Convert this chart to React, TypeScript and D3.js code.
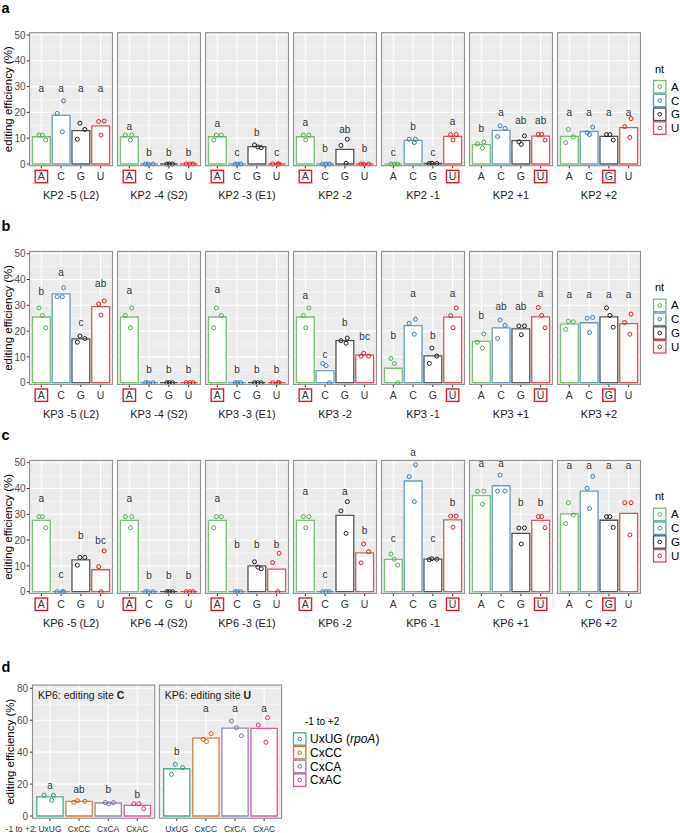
import React from "react";
import * as d3 from "d3";

const NT = ["A", "C", "G", "U"];
const NT_COLORS = ["#4daf4a", "#377eb8", "#1f1f1f", "#e41a1c"];
const POSITIONS = ["-5 (L2)", "-4 (S2)", "-3 (E1)", "-2", "-1", "+1", "+2"];
const HIGHLIGHT = ["A", "A", "A", "A", "U", "U", "G"];
const ROW_NAMES = ["KP2", "KP3", "KP6"];
const Y_TICKS = [0, 10, 20, 30, 40, 50];

// KP2 replicate values per position [A, C, G, U]
const KP2_POINTS = [
  [[11.2, 11.2, 9.3], [24.5, 19.6, 12.5], [15.8, 13.4, 9.6], [16.7, 16.5, 11.2]],
  [[11.2, 11.2, 9.3], [0, 0, 0], [0, 0, 0], [0, 0, 0]],
  [[11.2, 11.2, 9.3], [0, 0, 0], [7.4, 6.6, 6.3], [0, 0, 0]],
  [[11.2, 11.2, 9.3], [0, 0, 0], [9.6, 7.2, 0.3], [0, 0, 0]],
  [[0, 0, 0], [9.6, 9.6, 8.3], [0.3, 0.2, 0.2], [11.4, 11.4, 9.3]],
  [[8.5, 7.8, 6.2], [14.8, 13.8, 10.6], [10.9, 8.6, 7.6], [11.5, 11.5, 9.3]],
  [[13.4, 10.5, 8.3], [14.3, 12.1, 11.4], [11.4, 11.4, 9.3], [17.6, 14.5, 10.3]],
];
const KP2_LETTERS = [
  ["a", "a", "a", "a"], ["a", "b", "b", "b"], ["a", "c", "b", "c"], ["a", "b", "ab", "b"],
  ["c", "b", "c", "a"], ["b", "a", "ab", "ab"], ["a", "a", "a", "a"],
];
const KP2_LETTER_Y = [
  [29, 29, 29, 29], [14.5, 4.1, 4.1, 4.1], [15.5, 4.1, 11.9, 4.1], [16, 5.8, 13.2, 5.8],
  [4.4, 14.3, 4.4, 16.2], [13.6, 19.6, 16.5, 16.5], [19.6, 19.6, 19.6, 19.6],
];

// KP3
const KP3_POINTS = [
  [[29.0, 26.1, 21.3], [36.8, 33.3, 33.3], [18.1, 17.1, 15.7], [31.7, 30.5, 26.2]],
  [[29.0, 26.1, 21.3], [0, 0, 0], [0, 0, 0], [0, 0, 0]],
  [[29.0, 26.1, 21.3], [0, 0, 0], [0, 0, 0], [0, 0, 0]],
  [[29.0, 26.1, 21.3], [7.4, 6.6, 0], [17.3, 16.3, 15.3], [11.4, 10.3, 10.3]],
  [[9.4, 7.4, 0], [24.6, 23.0, 18.8], [13.4, 10.3, 7.5], [29.0, 26.0, 21.3]],
  [[18.9, 15.7, 13.4], [24.3, 22.2, 17.2], [22.0, 22.0, 18.6], [29.1, 26.1, 21.3]],
  [[23.8, 23.6, 20.7], [25.3, 25.0, 19.4], [29.0, 26.1, 21.5], [26.6, 23.3, 18.8]],
];
const KP3_LETTERS = [
  ["b", "a", "c", "ab"], ["a", "b", "b", "b"], ["a", "b", "b", "b"], ["a", "c", "b", "bc"],
  ["b", "a", "b", "a"], ["b", "ab", "ab", "a"], ["a", "a", "a", "a"],
];
const KP3_LETTER_Y = [
  [35, 42.6, 23.3, 38.1], [35.5, 5, 5, 5], [35.9, 5, 5, 5], [33.7, 10.6, 23, 17.8],
  [18.2, 34.5, 18.2, 34.5], [25.9, 29.3, 29.3, 34.5], [33.9, 33.9, 33.9, 33.9],
];

// KP6
const KP6_POINTS = [
  [[29.1, 29.1, 24.8], [0, 0, 0], [13.3, 13.3, 10.3], [15.8, 9.7, 0]],
  [[29.1, 29.1, 24.8], [0, 0, 0], [0, 0, 0], [0, 0, 0]],
  [[29.1, 29.1, 24.8], [0, 0, 0], [11.6, 9.5, 8.9], [14.9, 11.3, 0]],
  [[29.1, 29.1, 24.8], [0, 0, 0], [34.9, 31.3, 22.6], [18.5, 15.5, 11.2]],
  [[14.6, 12.6, 10.3], [49.2, 44.6, 34.9], [12.8, 12.6, 12.4], [29.3, 29.3, 25.0]],
  [[38.9, 38.9, 33.9], [45.2, 39.0, 39.0], [24.7, 24.7, 18.5], [29.1, 29.1, 24.8]],
  [[34.5, 29.7, 26.4], [44.7, 40.1, 32.2], [29.1, 29.1, 24.9], [34.5, 34.5, 22.0]],
];
const KP6_LETTERS = [
  ["a", "c", "b", "bc"], ["a", "b", "b", "b"], ["a", "b", "b", "b"], ["a", "c", "a", "b"],
  ["c", "a", "c", "b"], ["a", "a", "b", "b"], ["a", "a", "a", "a"],
];
const KP6_LETTER_Y = [
  [35.8, 6.5, 21.6, 19.7], [35.8, 6.1, 6.1, 6.1], [35.8, 18.1, 18.1, 18.1], [38.5, 6.5, 38.5, 23.6],
  [20.3, 53.6, 20.5, 34.5], [49.4, 49.4, 34.5, 34.5], [48.6, 48.6, 48.6, 48.6],
];

// Panel d
const D_CATS = ["UxUG", "CxCC", "CxCA", "CxAC"];
const D_COLORS = ["#1b9e77", "#d95f02", "#7570b3", "#e7298a"];
const D_SITES = ["C", "U"];
const D_TICKS = [0, 20, 40, 60, 80];
const D_POINTS = [
  [[13.0, 13.0, 9.8], [9.6, 9.2, 8.6], [8.4, 8.4, 7.6], [7.7, 7.7, 4.6]],
  [[32.4, 30.3, 26.1], [51.6, 48.0, 46.6], [59.5, 55.3, 50.3], [61.6, 57.0, 46.2]],
];
const D_LETTERS = [["a", "ab", "b", "b"], ["b", "a", "a", "a"]];
const D_LETTER_Y = [[18.8, 16.3, 16.3, 13], [39.9, 67, 67, 67]];

const JITTER = [
  [-0.12, 0.05, 0.22],
  [0.12, -0.2, 0.06],
  [-0.05, 0.2, -0.18],
  [0.18, -0.1, 0.02],
];

const FONT = "'Liberation Sans', Arial, Helvetica, sans-serif";
const ROW_POINTS = [KP2_POINTS, KP3_POINTS, KP6_POINTS];
const ROW_LETTERS = [KP2_LETTERS, KP3_LETTERS, KP6_LETTERS];
const ROW_LETTER_Y = [KP2_LETTER_Y, KP3_LETTER_Y, KP6_LETTER_Y];
const ROW_TAGS = ["a", "b", "c"];
const ROW_Y0 = [164, 382.7, 591.7];

const PANEL_BG = "#EBEBEB";
const BORDER = "#8f8f8f";

function barPath(x0: number, x1: number, yb: number, yt: number) {
  return `M${x0},${yb}V${yt}H${x1}V${yb}Z`;
}

function NtRow({ r }: { r: number }) {
  const y0 = ROW_Y0[r];
  const y = d3.scaleLinear().domain([0, 50]).range([y0, y0 - 129]);
  const top = y(50) - 2.3;
  const bottom = y0 + 1.7;
  const pw = 83;
  const x = d3.scalePoint<string>().domain(NT).range([0, pw]).padding(0.6);
  const step = x.step();
  const bw = step * 0.9;
  const pts = ROW_POINTS[r];
  const els: any[] = [];
  POSITIONS.forEach((pos, p) => {
    const px = 29.5 + p * 88;
    els.push(
      <g key={`p${p}`}>
        <rect x={px} y={top} width={pw} height={bottom - top} fill={PANEL_BG} />
        {d3.range(5, 50, 10).map((t) => (
          <line key={`mn${t}`} x1={px} x2={px + pw} y1={y(t)} y2={y(t)} stroke="#fff" strokeWidth={0.5} />
        ))}
        {Y_TICKS.map((t) => (
          <line key={`mj${t}`} x1={px} x2={px + pw} y1={y(t)} y2={y(t)} stroke="#fff" strokeWidth={1.1} />
        ))}
        {NT.map((n) => (
          <line key={`v${n}`} x1={px + x(n)!} x2={px + x(n)!} y1={top} y2={bottom} stroke="#fff" strokeWidth={1.1} />
        ))}
        {NT.map((n, i) => {
          const vals = pts[p][i];
          const m = d3.mean(vals)!;
          const cx = px + x(n)!;
          return (
            <g key={`b${n}`}>
              <path d={barPath(cx - bw / 2, cx + bw / 2, y(0), y(m))} fill="#fff" stroke={NT_COLORS[i]} strokeOpacity={0.75} strokeWidth={1.3} />
              {vals.map((v, k) => (
                <circle key={k} cx={cx + JITTER[(p + i) % 4][k] * step} cy={y(v)} r={2} fill="none" stroke={NT_COLORS[i]} strokeWidth={1} />
              ))}
              <text x={cx} y={y(ROW_LETTER_Y[r][p][i]) + 3} textAnchor="middle" fontSize={10} fill="#333" fontFamily={FONT}>
                {ROW_LETTERS[r][p][i]}
              </text>
              <line x1={cx} x2={cx} y1={bottom} y2={bottom + 2.7} stroke="#333" strokeWidth={1} />
              <text x={cx} y={y0 + 15.8} textAnchor="middle" fontSize={10.5} fill="#333" fontFamily={FONT}>
                {n}
              </text>
              {HIGHLIGHT[p] === n && (
                <rect x={cx - 6.2} y={y0 + 6.3} width={12.4} height={12.4} fill="none" stroke="#e41a1c" strokeWidth={1.4} />
              )}
            </g>
          );
        })}
        <rect x={px} y={top} width={pw} height={bottom - top} fill="none" stroke={BORDER} strokeWidth={1.1} />
        <text x={px + pw / 2} y={y0 + 35} textAnchor="middle" fontSize={11} fill="#1a1a1a" fontFamily={FONT}>
          {`${ROW_NAMES[r]} ${pos}`}
        </text>
      </g>
    );
  });
  const ax = 29.5;
  const yAxis = (
    <g key="yax">
      {Y_TICKS.map((t) => (
        <g key={t}>
          <line x1={ax - 2.7} x2={ax} y1={y(t)} y2={y(t)} stroke="#333" strokeWidth={1} />
          <text x={ax - 4} y={y(t) + 3.6} textAnchor="end" fontSize={10} fill="#4d4d4d" fontFamily={FONT}>
            {t}
          </text>
        </g>
      ))}
      <text transform={`translate(11.5,${(top + bottom) / 2}) rotate(-90)`} textAnchor="middle" fontSize={11.5} fill="#000" fontFamily={FONT}>
        editing efficiency (%)
      </text>
      <text x={1.5} y={top - 20} fontSize={14.5} fontWeight="bold" fill="#000" fontFamily={FONT}>
        {ROW_TAGS[r]}
      </text>
    </g>
  );
  const lx = 653.5;
  const legend = (
    <g key="leg">
      <text x={655} y={top + 40} fontSize={11} fill="#000" fontFamily={FONT}>nt</text>
      {NT.map((n, i) => {
        const cy = top + 54 + i * 13.8;
        return (
          <g key={n}>
            <rect x={lx} y={cy - 6.2} width={12.4} height={12.4} fill="#fff" stroke={NT_COLORS[i]} strokeOpacity={0.8} strokeWidth={1.3} />
            <circle cx={lx + 6.2} cy={cy} r={1.8} fill="none" stroke={NT_COLORS[i]} strokeWidth={1} />
            <text x={671} y={cy + 4} fontSize={11.5} fill="#000" fontFamily={FONT}>{n}</text>
          </g>
        );
      })}
    </g>
  );
  return (
    <g>
      {els}
      {yAxis}
      {legend}
    </g>
  );
}

function PanelD() {
  const y = d3.scaleLinear().domain([0, 80]).range([816, 688.3]);
  const top = 685;
  const bottom = 818.2;
  const pw = 122.3;
  const pxs = [32.5, 159.3];
  const x = d3.scalePoint<string>().domain(D_CATS).range([0, pw]).padding(0.6);
  const step = x.step();
  const bw = step * 0.9;
  return (
    <g>
      {D_SITES.map((site, s) => {
        const px = pxs[s];
        return (
          <g key={site}>
            <rect x={px} y={top} width={pw} height={bottom - top} fill={PANEL_BG} />
            {[10, 30, 50, 70].map((t) => (
              <line key={`mn${t}`} x1={px} x2={px + pw} y1={y(t)} y2={y(t)} stroke="#fff" strokeWidth={0.5} />
            ))}
            {D_TICKS.map((t) => (
              <line key={`mj${t}`} x1={px} x2={px + pw} y1={y(t)} y2={y(t)} stroke="#fff" strokeWidth={1.1} />
            ))}
            {D_CATS.map((c) => (
              <line key={`v${c}`} x1={px + x(c)!} x2={px + x(c)!} y1={top} y2={bottom} stroke="#fff" strokeWidth={1.1} />
            ))}
            {D_CATS.map((c, i) => {
              const vals = D_POINTS[s][i];
              const m = d3.mean(vals)!;
              const cx = px + x(c)!;
              return (
                <g key={c}>
                  <path d={barPath(cx - bw / 2, cx + bw / 2, y(0), y(m))} fill="#fff" stroke={D_COLORS[i]} strokeOpacity={0.8} strokeWidth={1.3} />
                  {vals.map((v, k) => (
                    <circle key={k} cx={cx + JITTER[(s + i + 1) % 4][k] * step} cy={y(v)} r={2} fill="none" stroke={D_COLORS[i]} strokeWidth={1} />
                  ))}
                  <text x={cx} y={y(D_LETTER_Y[s][i]) + 3} textAnchor="middle" fontSize={10} fill="#333" fontFamily={FONT}>
                    {D_LETTERS[s][i]}
                  </text>
                  <line x1={cx} x2={cx} y1={bottom} y2={bottom + 2.7} stroke="#333" strokeWidth={1} />
                  <text x={cx} y={831.5} textAnchor="middle" fontSize={8.5} fill="#333" fontFamily={FONT}>
                    {c}
                  </text>
                </g>
              );
            })}
            <rect x={px} y={top} width={pw} height={bottom - top} fill="none" stroke={BORDER} strokeWidth={1.1} />
            <text x={px + 5.5} y={699} fontSize={10.5} fill="#1a1a1a" fontFamily={FONT}>
              KP6: editing site <tspan fontWeight="bold">{site}</tspan>
            </text>
          </g>
        );
      })}
      {D_TICKS.map((t) => (
        <g key={t}>
          <line x1={29.8} x2={32.5} y1={y(t)} y2={y(t)} stroke="#333" strokeWidth={1} />
          <text x={28} y={y(t) + 3.6} textAnchor="end" fontSize={10} fill="#4d4d4d" fontFamily={FONT}>
            {t}
          </text>
        </g>
      ))}
      <text x={37} y={831.5} textAnchor="end" fontSize={8.5} fill="#333" fontFamily={FONT}>-1 to +2:</text>
      <text transform={`translate(13.5,${(top + bottom) / 2}) rotate(-90)`} textAnchor="middle" fontSize={11.5} fill="#000" fontFamily={FONT}>
        editing efficiency (%)
      </text>
      <text x={1.5} y={671.5} fontSize={14.5} fontWeight="bold" fill="#000" fontFamily={FONT}>d</text>
      <text x={305} y={724.5} fontSize={10} fill="#000" fontFamily={FONT}>-1 to +2</text>
      {D_CATS.map((c, i) => {
        const cy = 739 + i * 13.7;
        return (
          <g key={c}>
            <rect x={293.5} y={cy - 6.2} width={12.4} height={12.4} fill="#fff" stroke={D_COLORS[i]} strokeOpacity={0.85} strokeWidth={1.3} />
            <circle cx={299.7} cy={cy} r={1.8} fill="none" stroke={D_COLORS[i]} strokeWidth={1} />
            <text x={310} y={cy + 4.2} fontSize={12} fill="#000" fontFamily={FONT}>
              {c}
              {i === 0 && (
                <>
                  {" ("}
                  <tspan fontStyle="italic">rpoA</tspan>
                  {")"}
                </>
              )}
            </text>
          </g>
        );
      })}
    </g>
  );
}

export default function App() {
  return (
    <svg width={680} height={833} style={{ position: "absolute", left: 0, top: 0, background: "#fff" }} xmlns="http://www.w3.org/2000/svg">
      <rect x={0} y={0} width={680} height={833} fill="#fff" />
      {[0, 1, 2].map((r) => (
        <NtRow key={r} r={r} />
      ))}
      <PanelD />
    </svg>
  );
}
